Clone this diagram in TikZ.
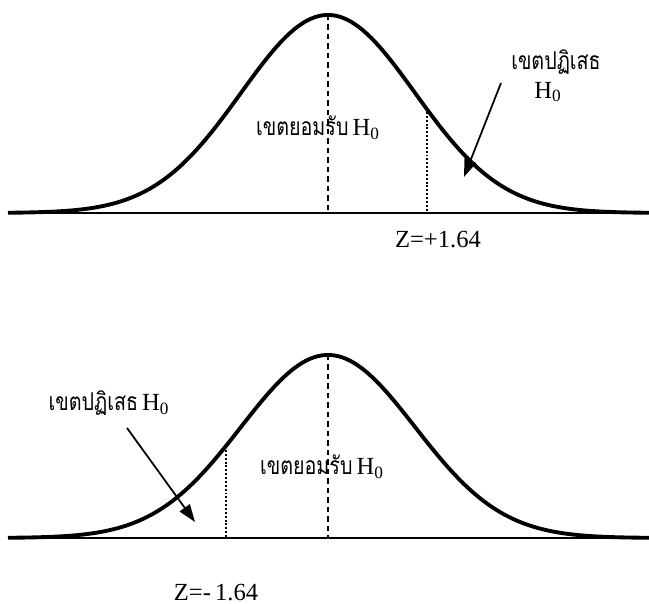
\documentclass[tikz,border=0pt]{standalone}
\usepackage{fontspec}
\setmainfont{Liberation Serif}
\newfontfamily\thaifont[Script=Thai,FakeStretch=0.8]{Loma}
\usetikzlibrary{arrows.meta, positioning}

\newcommand{\hnull}{H\textsubscript{0}}

\begin{document}
\begin{tikzpicture}[x=2cm,y=2cm,
    bell/.style={line width=2.2pt, line join=round},
    axisline/.style={line width=1pt},
    meanline/.style={line width=1pt, dash pattern=on 3pt off 2.4pt},
    critline/.style={line width=1pt, dash pattern=on 1.1pt off 1.1pt},
    pointer/.style={line width=1pt, -{Triangle[length=10pt,width=7pt]}},
    lbl/.style={inner sep=0pt, font=\fontsize{14}{16}\selectfont}]
        \useasboundingbox (0,0) rectangle (6.49,6.04);

        % 1. Upper curve (right tail)
        \draw[axisline] (0.08,3.91) -- (6.49,3.91);
        \draw[bell] plot [domain=0.08:6.49, samples=160]
            (\x, {3.91 + 1.98*exp(-((\x-3.28)^2)/1.5138)});

        \coordinate (TopPeak) at (3.28,5.89);
        \coordinate (TopMean) at (3.28,3.91);
        \coordinate (TopCrit) at (4.27,4.92);
        \coordinate (TopCritFoot) at (4.27,3.91);
        \draw[meanline] (TopPeak) -- (TopMean);
        \draw[critline] (TopCrit) -- (TopCritFoot);

        \node[lbl] (topaccept) at (3.18,4.76) {{\thaifont เขตยอมรับ}\,\hnull};
        \node[lbl] (topreject) at (5.56,5.42) {\thaifont เขตปฏิเสธ};
        \node[lbl] (topnull) at (5.48,5.12) {\hnull};
        \node[lbl] (topz) at (4.38,3.64) {Z=+1.64};

        \coordinate (TopTail) at (5.01,5.21);
        \coordinate (TopTip) at (4.64,4.27);
        \draw[pointer] (TopTail) -- (TopTip);

        % 2. Lower curve (left tail)
        \draw[axisline] (0.08,0.66) -- (6.49,0.66);
        \draw[bell] plot [domain=0.08:6.49, samples=160]
            (\x, {0.66 + 1.83*exp(-((\x-3.28)^2)/1.5138)});

        \coordinate (LowPeak) at (3.28,2.49);
        \coordinate (LowMean) at (3.28,0.66);
        \coordinate (LowCrit) at (2.26,1.54);
        \coordinate (LowCritFoot) at (2.26,0.66);
        \draw[meanline] (LowPeak) -- (LowMean);
        \draw[critline] (LowCrit) -- (LowCritFoot);

        \node[lbl] (lowaccept) at (3.22,1.37) {{\thaifont เขตยอมรับ}\,\hnull};
        \node[lbl] (lowreject) at (1.09,2.01) {{\thaifont เขตปฏิเสธ}\,\hnull};
        \node[lbl] (lowz) at (2.16,0.11) {Z=-\,1.64};

        \coordinate (LowTail) at (1.27,1.76);
        \coordinate (LowTip) at (1.95,0.82);
        \draw[pointer] (LowTail) -- (LowTip);
    \end{tikzpicture}
\end{document}
